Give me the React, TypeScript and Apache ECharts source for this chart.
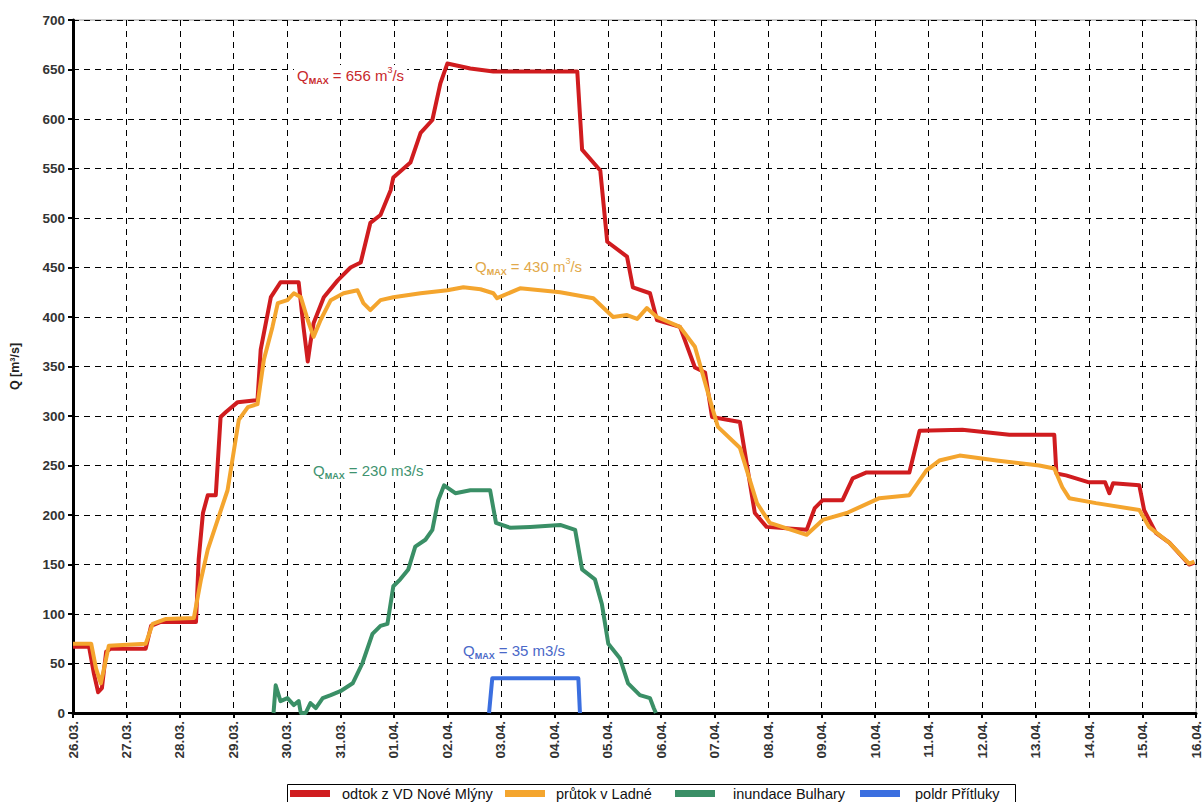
import React, { useEffect, useRef } from "react";
import * as echarts from "echarts";

const dateLabels = [
  "26.03.", "27.03.", "28.03.", "29.03.", "30.03.", "31.03.", "01.04.", "02.04.",
  "03.04.", "04.04.", "05.04.", "06.04.", "07.04.", "08.04.", "09.04.", "10.04.",
  "11.04.", "12.04.", "13.04.", "14.04.", "15.04.", "16.04.",
];

const seriesNames = ["odtok z VD Nové Mlýny", "průtok v Ladné", "inundace Bulhary", "poldr Přítluky"];

// [day offset from 26.03., discharge m3/s]
const odtokNoveMlyny: [number, number][] = [
  [0.0, 67], [0.3, 67], [0.39, 40], [0.47, 21], [0.54, 25], [0.62, 62], [0.71, 65],
  [1.36, 65], [1.46, 88], [1.64, 92], [2.3, 92], [2.35, 155], [2.43, 202], [2.52, 220],
  [2.67, 220], [2.76, 299], [2.86, 304], [3.08, 314], [3.45, 316], [3.51, 367], [3.7, 420],
  [3.88, 435], [4.22, 435], [4.31, 390], [4.39, 355], [4.44, 374], [4.5, 394], [4.69, 420],
  [4.95, 437], [5.19, 450], [5.38, 455], [5.56, 495], [5.75, 503], [5.94, 528], [5.99, 541],
  [6.31, 556], [6.5, 586], [6.72, 599], [6.87, 636], [7.0, 656], [7.43, 651], [7.86, 648],
  [9.43, 648], [9.52, 569], [9.86, 548], [9.99, 476], [10.36, 461], [10.47, 430], [10.79, 424],
  [10.92, 397], [11.35, 390], [11.63, 349], [11.82, 344], [11.95, 299], [12.47, 294],
  [12.75, 202], [12.97, 188], [13.72, 185], [13.87, 207], [14.02, 215], [14.39, 215],
  [14.58, 237], [14.84, 243], [15.64, 243], [15.83, 285], [16.63, 286], [17.51, 281],
  [18.35, 281], [18.39, 242], [18.57, 240], [19.0, 233], [19.3, 233], [19.38, 222],
  [19.45, 232], [19.94, 230], [20.03, 205], [20.25, 182], [20.5, 172], [20.74, 158],
  [20.87, 150], [20.97, 152],
];

const prutokLadne: [number, number][] = [
  [0.0, 70], [0.34, 70], [0.43, 45], [0.52, 30], [0.6, 50], [0.67, 68], [1.36, 70],
  [1.49, 90], [1.74, 95], [2.26, 96], [2.39, 134], [2.52, 165], [2.89, 225], [3.1, 296],
  [3.27, 309], [3.45, 312], [3.57, 357], [3.73, 390], [3.83, 414], [4.01, 417], [4.13, 424],
  [4.26, 420], [4.39, 397], [4.5, 380], [4.63, 397], [4.82, 417], [5.06, 424], [5.32, 427],
  [5.43, 414], [5.56, 407], [5.75, 417], [5.99, 420], [6.5, 424], [7.0, 427], [7.3, 430],
  [7.62, 428], [7.86, 424], [7.93, 419], [8.36, 429], [8.74, 427], [9.11, 425], [9.73, 419],
  [10.1, 400], [10.36, 402], [10.55, 398], [10.73, 409], [10.92, 400], [11.35, 390],
  [11.63, 370], [11.95, 309], [12.06, 289], [12.47, 268], [12.79, 212], [13.03, 192],
  [13.72, 180], [14.02, 195], [14.47, 202], [15.08, 217], [15.64, 220], [15.96, 245],
  [16.2, 255], [16.58, 260], [17.27, 255], [18.07, 250], [18.35, 247], [18.5, 228],
  [18.63, 217], [19.13, 212], [19.94, 205], [20.12, 188], [20.5, 172], [20.87, 151],
  [20.97, 153],
];

const inundaceBulhary: [number, number][] = [
  [3.75, 0], [3.79, 28], [3.88, 12], [4.01, 15], [4.13, 8], [4.22, 12], [4.26, 0], [4.35, 0],
  [4.44, 10], [4.54, 5], [4.67, 15], [4.82, 18], [5.0, 22], [5.23, 30], [5.41, 50], [5.6, 80],
  [5.75, 88], [5.88, 90], [5.99, 128], [6.12, 135], [6.27, 145], [6.4, 168], [6.59, 175],
  [6.72, 185], [6.83, 215], [6.94, 230], [7.15, 222], [7.43, 225], [7.8, 225], [7.91, 192],
  [8.18, 187], [8.55, 188], [9.11, 190], [9.39, 185], [9.52, 145], [9.76, 135], [9.89, 110],
  [10.01, 70], [10.23, 55], [10.38, 30], [10.6, 18], [10.79, 15], [10.86, 5], [10.9, 0],
];

const poldrPritluky: [number, number][] = [
  [7.78, 0], [7.84, 35], [9.45, 35], [9.48, 0],
];

const colors = ["#d01c1f", "#f4a52e", "#3a8f66", "#3b6fe0"];

export default function App() {
  const ref = useRef<HTMLDivElement>(null);
  useEffect(() => {
    if (!ref.current) return;
    const chart = echarts.init(ref.current, undefined, { renderer: "svg" });
    const F = "Liberation Sans, Arial";
    const lbl = (color: string, value: string, unit: string, left: number, centerY: number) => ({
      type: "text",
      left,
      top: centerY - 10,
      z: 100,
      style: {
        text: `{q|Q}{s|MAX}{n| = ${value} }${unit}`,
        fill: color,
        backgroundColor: "#fff",
        padding: [0, 3, 0, 3],
        rich: {
          q: { fontSize: 15, fill: color, fontFamily: F, lineHeight: 20 },
          s: { fontSize: 9, fill: color, fontWeight: "bold", fontFamily: F, verticalAlign: "bottom", lineHeight: 20, padding: [8, 0, 0, 0] },
          n: { fontSize: 15, fill: color, fontFamily: F, lineHeight: 20 },
          p: { fontSize: 9, fill: color, fontFamily: F, verticalAlign: "top", lineHeight: 20, padding: [0, 0, 8, 0] },
        },
      },
    });
    const graphic: any[] = [
      lbl("#c8282b", "656", "{n|m}{p|3}{n|/s}", 294, 75),
      lbl("#e2a94a", "430", "{n|m}{p|3}{n|/s}", 472, 266),
      lbl("#3f9370", "230", "{n|m3/s}", 310, 470),
      lbl("#4a68c8", "35", "{n|m3/s}", 460, 650),
      {
        type: "rect",
        z: 0,
        shape: { x: 287.5, y: 784.5, width: 728, height: 24 },
        style: { fill: "#fff", stroke: "#000", lineWidth: 1 },
      },
    ];
    const legendLefts = [290, 505, 675, 860];
    const legendTextGaps = [12, 11, 18, 15];
    const legends = seriesNames.map((name, i) => ({
      left: legendLefts[i],
      top: 786,
      data: [name],
      icon: "rect",
      itemWidth: 40,
      itemHeight: 7,
      padding: 0,
      z: 10,
      textStyle: { fontSize: 14.5, color: "#111", padding: [0, 0, 0, legendTextGaps[i] - 5], fontFamily: F },
    }));
    const mk = (name: string, data: [number, number][], color: string) => ({
      name,
      type: "line",
      data,
      showSymbol: false,
      symbol: "none",
      lineStyle: { color, width: 4, join: "round" },
      itemStyle: { color },
      z: 3,
    });
    chart.setOption({
      animation: false,
      backgroundColor: "#fff",
      textStyle: { fontFamily: F },
      grid: {
        left: 72, right: 6, top: 20, bottom: 89,
        show: true, borderColor: "#999", borderWidth: 1, backgroundColor: "#fff",
      },
      legend: legends,
      xAxis: {
        type: "value",
        min: 0,
        max: 21,
        interval: 1,
        axisLine: { onZero: false, lineStyle: { color: "#000", width: 3 } },
        axisTick: { show: true, length: 5, lineStyle: { color: "#000", width: 2 } },
        axisLabel: {
          rotate: 90,
          margin: 8,
          fontSize: 13.5,
          fontWeight: "bold",
          color: "#333",
          formatter: (v: number) => dateLabels[Math.round(v)] ?? "",
        },
        splitLine: { show: true, lineStyle: { color: "#000", type: [6, 5], width: 1 } },
      },
      yAxis: {
        type: "value",
        min: 0,
        max: 700,
        interval: 50,
        name: "Q [m³/s]",
        nameLocation: "middle",
        nameGap: 52,
        nameTextStyle: { fontSize: 12.5, fontWeight: "bold", color: "#222" },
        axisLine: { show: true, lineStyle: { color: "#000", width: 3 } },
        axisTick: { show: true, length: 5, lineStyle: { color: "#000", width: 2 } },
        axisLabel: { fontSize: 13.5, fontWeight: "bold", color: "#333", margin: 8 },
        splitLine: { show: true, lineStyle: { color: "#000", type: [6, 5], width: 1 } },
      },
      graphic,
      series: [
        mk(seriesNames[0], odtokNoveMlyny, colors[0]),
        mk(seriesNames[1], prutokLadne, colors[1]),
        mk(seriesNames[2], inundaceBulhary, colors[2]),
        mk(seriesNames[3], poldrPritluky, colors[3]),
      ],
    });
    return () => chart.dispose();
  }, []);
  return (
    <div
      ref={ref}
      style={{ position: "absolute", left: 0, top: 0, width: 1203, height: 802 }}
    />
  );
}
